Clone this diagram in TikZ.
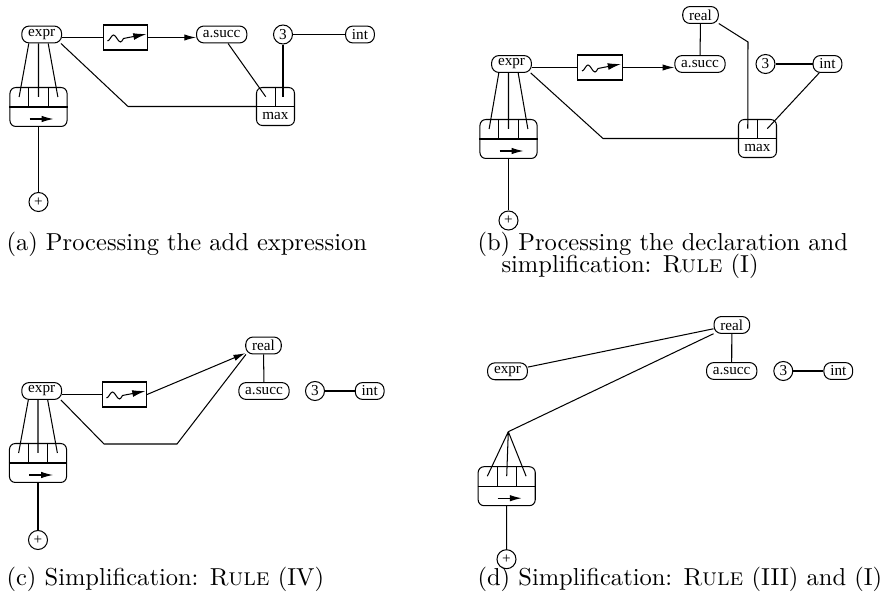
\documentclass[tikz,border=0pt]{standalone}
\usepackage{fontspec}
\usetikzlibrary{arrows.meta,calc}
\newfontfamily\nodeserif{Liberation Serif}
\tikzset{
  lbl/.style={draw, rounded corners=3pt, minimum height=6.9pt, inner xsep=2.6pt, inner ysep=0pt,
    font={\nodeserif\fontsize{6.2}{7}\selectfont}},
  num/.style={draw, circle, minimum size=7.75pt, inner sep=0pt,
    font={\nodeserif\fontsize{6.2}{7}\selectfont}},
  wavebox/.style={draw, minimum width=18pt, minimum height=10.2pt, inner sep=0pt},
  recbox/.style={draw, rounded corners=2.4pt, minimum width=23.3pt, minimum height=15.9pt, inner sep=0pt},
  maxbox/.style={draw, rounded corners=2.4pt, minimum size=15.5pt, inner sep=0pt},
  maxtext/.style={inner sep=0pt, font={\nodeserif\fontsize{6.2}{7}\selectfont}},
  captext/.style={anchor=base west, inner sep=0pt},
  tip/.style={-{Latex[length=4.8pt,width=2.6pt]}},
}
\begin{document}
\begin{tikzpicture}[x=0.408pt,y=-0.408pt,line width=0.42pt]
\useasboundingbox (0,0) rectangle (884,599);

% (a) the add expression
\node[lbl] (expra) at (41.7,34.5) {expr};
\node[wavebox] (wavea) at (125.5,37.5) {};
\node[lbl] (succa) at (221.7,34.5) {a.succ};
\node[num] (threea) at (283,34.5) {3};
\node[lbl] (inta) at (360,34.5) {int};
\node[recbox] (reca) at (38.5,107) {};
\node[num] (plusa) at (38.5,202) {+};
\node[maxbox] (maxa) at (275.5,106.5) {};

% (b) declaration
\node[lbl] (realb) at (700.5,15) {real};
\node[lbl] (exprb) at (511.5,64) {expr};
\node[wavebox] (waveb) at (600,67.5) {};
\node[lbl] (succb) at (700,64) {a.succ};
\node[num] (threeb) at (765.5,64) {3};
\node[lbl] (intb) at (827.5,64) {int};
\node[recbox] (recb) at (508.5,139) {};
\node[num] (plusb) at (508.5,220.5) {+};
\node[maxbox] (maxb) at (757.5,138.5) {};

% (c) rule IV
\node[lbl] (realc) at (263.5,345.5) {real};
\node[lbl] (exprc) at (41.7,391) {expr};
\node[wavebox] (wavec) at (124.5,394.5) {};
\node[lbl] (succc) at (264,391) {a.succ};
\node[num] (threec) at (315,391) {3};
\node[lbl] (intc) at (369.7,391) {int};
\node[recbox] (recc) at (38,463) {};
\node[num] (plusc) at (38,540) {+};

% (d) rules III and I
\node[lbl] (reald) at (731.8,325) {real};
\node[lbl] (exprd) at (507.5,371.3) {expr};
\node[lbl] (succd) at (731.7,371) {a.succ};
\node[num] (threed) at (783.3,371) {3};
\node[lbl] (intd) at (838.3,371) {int};
\coordinate (forkd) at (508.3,431.7);
\node[recbox] (recd) at (506.7,486.2) {};
\node[num] (plusd) at (506.5,559.2) {+};

% record boxes
\foreach \r in {reca,recb,recc,recd}{
  \draw (\r.west) -- (\r.east)
        ($(\r.north west)!1/3!(\r.north east)$) -- ($(\r.west)!1/3!(\r.east)$)
        ($(\r.north west)!2/3!(\r.north east)$) -- ($(\r.west)!2/3!(\r.east)$);
  \coordinate (\r-l) at ($(\r.north west)!.5!(\r.west)$);
  \coordinate (\r-r) at ($(\r.north east)!.5!(\r.east)$);
  \coordinate (\r-1) at ($(\r-l)!1/6!(\r-r)$);
  \coordinate (\r-2) at ($(\r-l)!1/2!(\r-r)$);
  \coordinate (\r-3) at ($(\r-l)!5/6!(\r-r)$);
  \coordinate (\r-d1) at ($(\r.north west)!1/3!(\r.north east)$);
  \coordinate (\r-d2) at ($(\r.north west)!2/3!(\r.north east)$);
  \draw[tip] ($(\r.south)+(-9,-8)$) -- ($(\r.south)+(15,-8)$);
}

% max boxes
\foreach \m in {maxa,maxb}{
  \draw (\m.west) -- (\m.east) (\m.north) -- (\m.center);
  \coordinate (\m-l) at ($(\m.north west)!.5!(\m.west)$);
  \coordinate (\m-r) at ($(\m.north east)!.5!(\m.east)$);
  \coordinate (\m-1) at ($(\m-l)!1/4!(\m-r)$);
  \coordinate (\m-2) at ($(\m-l)!3/4!(\m-r)$);
  \node[maxtext] (\m-t) at ($(\m.center)!.5!(\m.south)$) {max};
}

% wave symbols
\foreach \w in {wavea,waveb,wavec}
  \draw[-{Latex[length=5.4pt,width=2.8pt]}] ($(\w)+(-18,3.5)$) cos ++(3,-3) sin ++(3,-3)
    cos ++(3.5,3.5) sin ++(3.5,3.5) cos ++(3,-3.5) -- ++(23,-4.5);

% (a)
\draw (expra.east |- wavea) -- (wavea);
\draw[tip] (wavea) -- (succa.west |- wavea);
\draw (expra.south -| reca-d1) -- (reca-1)
      (expra.south -| reca.north) -- (reca-2)
      (expra.south -| reca-d2) -- (reca-3);
\draw (reca) -- (plusa);
\draw (expra.-25) -- (128,106.5) -- (maxa.west);
\draw (succa) -- (maxa-1);
\draw (threea) -- (threea |- maxa-2);
\draw (threea) -- (inta);

% (b)
\draw (exprb.east |- waveb) -- (waveb);
\draw[tip] (waveb) -- (succb.west |- waveb);
\draw (exprb.south -| recb-d1) -- (recb-1)
      (exprb.south -| recb.north) -- (recb-2)
      (exprb.south -| recb-d2) -- (recb-3);
\draw (recb) -- (plusb);
\draw (exprb.-25) -- (603,138.5) -- (maxb.west);
\draw (realb.-25) -- (748,42) -- (maxb-1);
\draw (intb) -- (maxb-2);
\draw (realb) -- (succb);
\draw (threeb) -- (intb);

% (c)
\draw (exprc.east |- wavec) -- (wavec);
\draw[tip] (wavec.east) -- (realc);
\draw (exprc.south -| recc-d1) -- (recc-1)
      (exprc.south -| recc.north) -- (recc-2)
      (exprc.south -| recc-d2) -- (recc-3);
\draw (recc) -- (plusc);
\draw (exprc.-25) -- (104,444) -- (177,444) -- (realc.207);
\draw (realc) -- (succc);
\draw (threec) -- (intc);

% (d)
\draw (exprd) -- (reald);
\draw (forkd) -- (reald);
\draw (forkd) -- (recd-1) (forkd) -- (recd-2) (forkd) -- (recd-3);
\draw (recd) -- (plusd);
\draw (reald) -- (succd);
\draw (threed) -- (intd);

% captions
\node[captext] (capa) at (6,250.5) {(a) Processing the add expression};
\node[captext] (capb) at (477,250.5) {(b) Processing the declaration and};
\node[captext] (capb2) at (501,273) {simplification: \textsc{Rule} (I)};
\node[captext] (capc) at (6,585.5) {(c) Simplification: \textsc{Rule} (IV)};
\node[captext] (capd) at (477,585.5) {(d) Simplification: \textsc{Rule} (III) and (I)};
\end{tikzpicture}
\end{document}
